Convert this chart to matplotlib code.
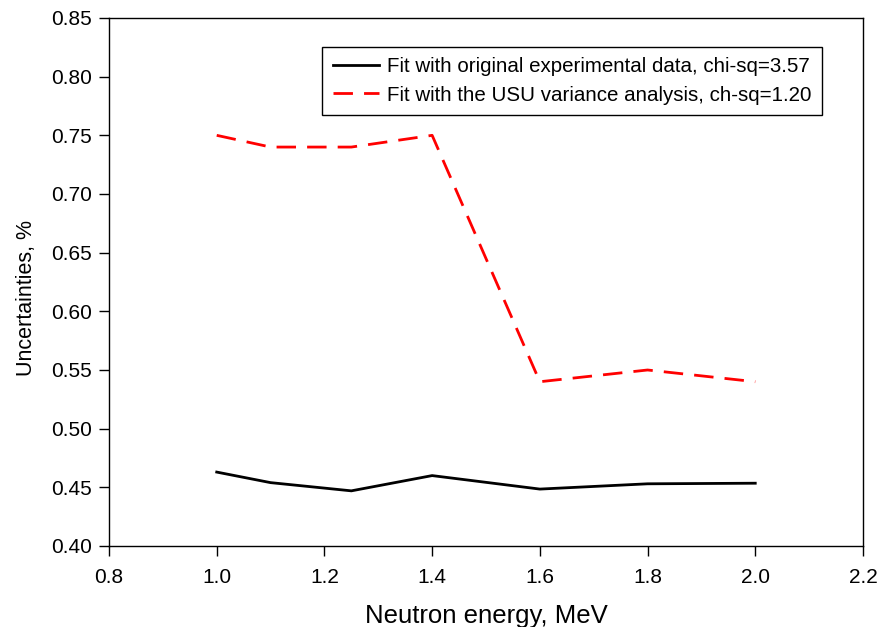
import numpy as np
import matplotlib
matplotlib.use('Agg')
import matplotlib.pyplot as plt

plt.rcParams['font.family'] = ['Liberation Sans', 'DejaVu Sans']

energy = [1.0, 1.1, 1.25, 1.4, 1.6, 1.8, 2.0]
unc_original = [0.463, 0.454, 0.447, 0.460, 0.4485, 0.453, 0.4535]
unc_usu = [0.75, 0.74, 0.74, 0.75, 0.54, 0.55, 0.54]

label_original = 'Fit with original experimental data, chi-sq=3.57'
label_usu = 'Fit with the USU variance analysis, ch-sq=1.20'

xticks = [0.8, 1.0, 1.2, 1.4, 1.6, 1.8, 2.0, 2.2]
yticks = [0.40, 0.45, 0.50, 0.55, 0.60, 0.65, 0.70, 0.75, 0.80, 0.85]

fig = plt.figure(figsize=(8.77, 6.27), dpi=100)
ax = fig.add_axes([0.1243, 0.1292, 0.8597, 0.8421])

ax.plot(energy, unc_original, color='black', lw=2, label=label_original)
ax.plot(energy, unc_usu, color='red', lw=2, dashes=(7, 4), label=label_usu)

ax.set_xlim(0.8, 2.2)
ax.set_ylim(0.40, 0.85)
ax.set_xticks(xticks)
ax.set_yticks(yticks)
ax.set_xticklabels(['%.1f' % v for v in xticks])
ax.set_yticklabels(['%.2f' % v for v in yticks])
ax.tick_params(direction='out', length=7, width=1, labelsize=15)
ax.tick_params(axis='x', pad=9)
ax.tick_params(axis='y', pad=5)
for s in ax.spines.values():
    s.set_linewidth(1)

ax.set_xlabel('Neutron energy, MeV', fontsize=18.5, labelpad=12)
ax.set_ylabel('Uncertainties, %', fontsize=15.5)
ax.yaxis.set_label_coords(-0.095, 0.47)

leg = ax.legend(loc='upper right', bbox_to_anchor=(0.9456, 0.945), borderaxespad=0,
                fancybox=False, edgecolor='black', framealpha=1, fontsize=14.8,
                handlelength=2.25, handletextpad=0.4, labelspacing=0.45,
                borderpad=0.5)
leg.get_frame().set_linewidth(1)

plt.savefig('out.png', dpi=100)
